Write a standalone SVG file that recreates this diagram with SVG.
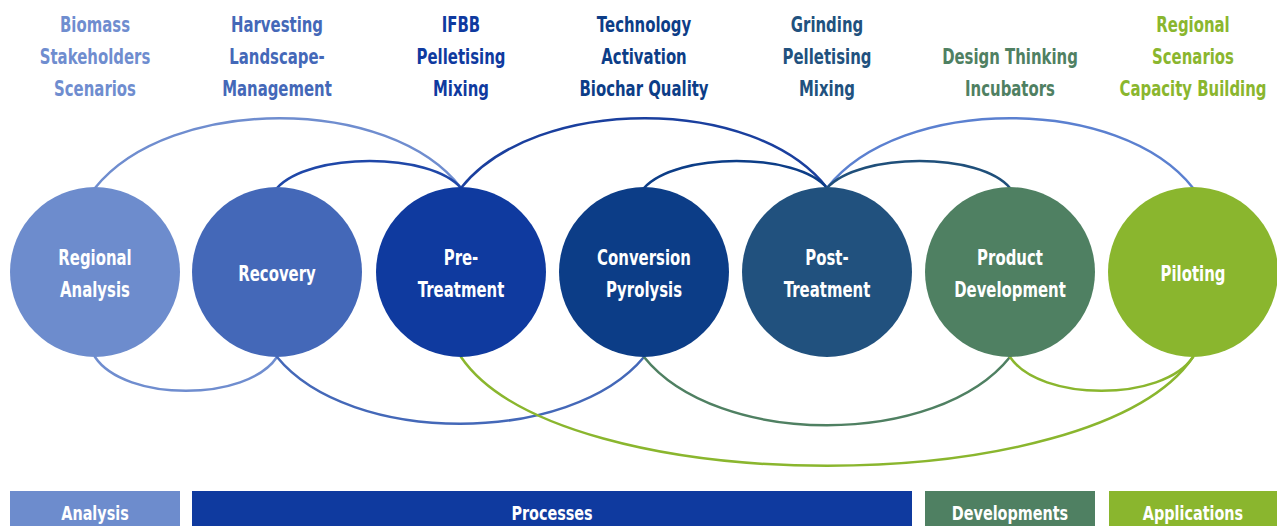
<svg xmlns="http://www.w3.org/2000/svg" width="1277" height="526" viewBox="0 0 1277 526">
<style>
.lbl,.in,.bar{font-family:"DejaVu Sans","Liberation Sans",sans-serif;font-weight:bold;font-size:21px;text-anchor:middle}
.in,.bar{fill:#ffffff}
.bar{font-size:20px}
.arc{fill:none;stroke-width:2.5;stroke-linecap:round}
</style>
<rect width="1277" height="526" fill="#ffffff"/>
<g id="top-labels">
<text class="lbl" fill="#6f8dcf" transform="translate(95,32) scale(0.71,1)">Biomass</text>
<text class="lbl" fill="#6f8dcf" transform="translate(95,64) scale(0.71,1)">Stakeholders</text>
<text class="lbl" fill="#6f8dcf" transform="translate(95,96) scale(0.71,1)">Scenarios</text>
<text class="lbl" fill="#4468b8" transform="translate(277,32) scale(0.71,1)">Harvesting</text>
<text class="lbl" fill="#4468b8" transform="translate(277,64) scale(0.71,1)">Landscape-</text>
<text class="lbl" fill="#4468b8" transform="translate(277,96) scale(0.71,1)">Management</text>
<text class="lbl" fill="#0f3a9f" transform="translate(461,32) scale(0.71,1)">IFBB</text>
<text class="lbl" fill="#0f3a9f" transform="translate(461,64) scale(0.71,1)">Pelletising</text>
<text class="lbl" fill="#0f3a9f" transform="translate(461,96) scale(0.71,1)">Mixing</text>
<text class="lbl" fill="#0c3d87" transform="translate(644,32) scale(0.71,1)">Technology</text>
<text class="lbl" fill="#0c3d87" transform="translate(644,64) scale(0.71,1)">Activation</text>
<text class="lbl" fill="#0c3d87" transform="translate(644,96) scale(0.71,1)">Biochar Quality</text>
<text class="lbl" fill="#21517e" transform="translate(827,32) scale(0.71,1)">Grinding</text>
<text class="lbl" fill="#21517e" transform="translate(827,64) scale(0.71,1)">Pelletising</text>
<text class="lbl" fill="#21517e" transform="translate(827,96) scale(0.71,1)">Mixing</text>
<text class="lbl" fill="#4f8062" transform="translate(1010,64) scale(0.71,1)">Design Thinking</text>
<text class="lbl" fill="#4f8062" transform="translate(1010,96) scale(0.71,1)">Incubators</text>
<text class="lbl" fill="#8ab62e" transform="translate(1193,32) scale(0.71,1)">Regional</text>
<text class="lbl" fill="#8ab62e" transform="translate(1193,64) scale(0.71,1)">Scenarios</text>
<text class="lbl" fill="#8ab62e" transform="translate(1193,96) scale(0.71,1)">Capacity Building</text>
</g>
<g id="connectors">
<path class="arc" stroke="#6f8dcf" d="M95,188 C170,95 390,95 461,188"/>
<path class="arc" stroke="#1f47a8" d="M277,188 C310,152 430,152 461,188"/>
<path class="arc" stroke="#1a3f9e" d="M461,188 C535,95 755,95 827,188"/>
<path class="arc" stroke="#0c3d87" d="M644,188 C677,152 797,152 827,188"/>
<path class="arc" stroke="#5b80d0" d="M827,188 C900,95 1120,95 1193,188"/>
<path class="arc" stroke="#1f4f7a" d="M827,188 C860,152 980,152 1010,188"/>
<path class="arc" stroke="#6f8dcf" d="M95,357 C125,402 247,402 277,357"/>
<path class="arc" stroke="#4468b8" d="M277,357 C350,446 570,446 644,357"/>
<path class="arc" stroke="#8ab62e" d="M461,357 C560,502 1095,502 1193,357"/>
<path class="arc" stroke="#4f8062" d="M644,357 C717,448 937,448 1010,357"/>
<path class="arc" stroke="#8ab62e" d="M1010,357 C1040,402 1163,402 1193,357"/>
</g>
<g id="n-regional-analysis"><circle cx="95" cy="272" r="85" fill="#6d8ccd"/><text class="in" transform="translate(95,265) scale(0.71,1)">Regional</text><text class="in" transform="translate(95,297) scale(0.71,1)">Analysis</text></g>
<g id="n-recovery"><circle cx="277" cy="272" r="85" fill="#4468b8"/><text class="in" transform="translate(277,281) scale(0.71,1)">Recovery</text></g>
<g id="n-pre-treatment"><circle cx="461" cy="272" r="85" fill="#0f3a9f"/><text class="in" transform="translate(461,265) scale(0.71,1)">Pre-</text><text class="in" transform="translate(461,297) scale(0.71,1)">Treatment</text></g>
<g id="n-conversion"><circle cx="644" cy="272" r="85" fill="#0c3d87"/><text class="in" transform="translate(644,265) scale(0.71,1)">Conversion</text><text class="in" transform="translate(644,297) scale(0.71,1)">Pyrolysis</text></g>
<g id="n-post-treatment"><circle cx="827" cy="272" r="85" fill="#21517e"/><text class="in" transform="translate(827,265) scale(0.71,1)">Post-</text><text class="in" transform="translate(827,297) scale(0.71,1)">Treatment</text></g>
<g id="n-product-development"><circle cx="1010" cy="272" r="85" fill="#4f8062"/><text class="in" transform="translate(1010,265) scale(0.71,1)">Product</text><text class="in" transform="translate(1010,297) scale(0.71,1)">Development</text></g>
<g id="n-piloting"><circle cx="1193" cy="272" r="85" fill="#8ab62e"/><text class="in" transform="translate(1193,281) scale(0.71,1)">Piloting</text></g>
<g id="bar-analysis"><rect x="10" y="491" width="170" height="40" fill="#6d8ccd"/><text class="bar" transform="translate(95,520) scale(0.72,1)">Analysis</text></g>
<g id="bar-processes"><rect x="192" y="491" width="720" height="40" fill="#0f3a9f"/><text class="bar" transform="translate(552,520) scale(0.72,1)">Processes</text></g>
<g id="bar-developments"><rect x="925" y="491" width="170" height="40" fill="#4f8062"/><text class="bar" transform="translate(1010,520) scale(0.72,1)">Developments</text></g>
<g id="bar-applications"><rect x="1109" y="491" width="168" height="40" fill="#8ab62e"/><text class="bar" transform="translate(1193,520) scale(0.72,1)">Applications</text></g>
</svg>
